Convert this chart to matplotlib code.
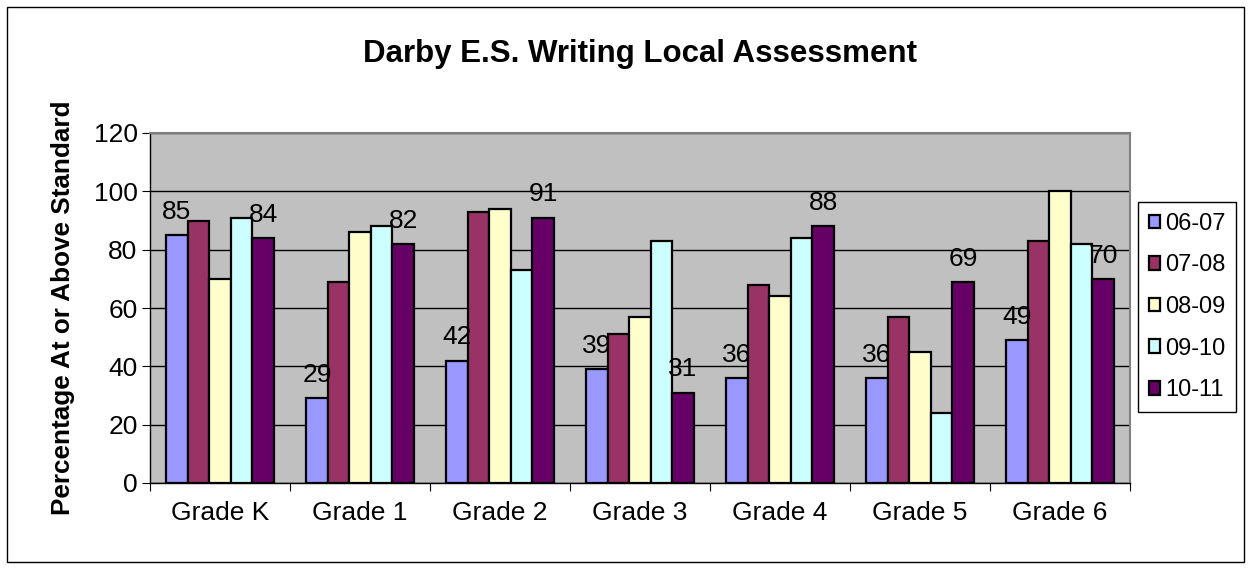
import matplotlib.pyplot as plt
import matplotlib.patches as mpatches
import numpy as np

plt.rcParams['font.family'] = ['Liberation Sans', 'DejaVu Sans']

grades = ['Grade K', 'Grade 1', 'Grade 2', 'Grade 3', 'Grade 4', 'Grade 5', 'Grade 6']
years = ['06-07', '07-08', '08-09', '09-10', '10-11']
y0607 = [85, 29, 42, 39, 36, 36, 49]
y0708 = [90, 69, 93, 51, 68, 57, 83]
y0809 = [70, 86, 94, 57, 64, 45, 100]
y0910 = [91, 88, 73, 83, 84, 24, 82]
y1011 = [84, 82, 91, 31, 88, 69, 70]
series = [y0607, y0708, y0809, y0910, y1011]
colors = ['#9999FF', '#993366', '#FFFFCC', '#CCFFFF', '#660066']
labelled = [0, 4]  # only first and last series carry data labels

fig = plt.figure(figsize=(12.52, 5.69), dpi=100)
# outer chart border
fig.patches.append(mpatches.Rectangle((7/1252, 7/569), 1237/1252, 555/569,
                                      transform=fig.transFigure, fill=False,
                                      edgecolor='black', linewidth=1))

ax = fig.add_axes([150/1252, 1-483/569, 980/1252, 350/569])
ax.set_facecolor('#C0C0C0')
ax.set_axisbelow(True)

x = np.arange(len(grades))
w = 1/6.5
for i, vals in enumerate(series):
    pos = x - 2*w + i*w
    ax.bar(pos, vals, w, color=colors[i], edgecolor='black', linewidth=1.6, label=years[i])
    if i in labelled:
        for p, v in zip(pos, vals):
            ax.annotate(str(v), (p, v), xytext=(0, 8), textcoords='offset points',
                        ha='center', va='bottom', fontsize=19)

ax.set_xlim(-0.5, len(grades)-0.5)
ax.set_ylim(0, 120)
ax.set_yticks(np.arange(0, 121, 20))
ax.yaxis.grid(True, color='black', linewidth=1)
ax.set_xticks(np.arange(-0.5, len(grades), 1))
ax.set_xticklabels([])
ax.set_xticks(x, minor=True)
ax.set_xticklabels(grades, minor=True)
ax.tick_params(axis='x', which='minor', length=0, pad=13, labelsize=19)
ax.tick_params(axis='x', which='major', length=6, direction='out', color='black')
ax.tick_params(axis='y', length=6, direction='out', pad=3, labelsize=19)

for s in ['top', 'right']:
    ax.spines[s].set_color('#808080')
    ax.spines[s].set_linewidth(1.5)
for s in ['left', 'bottom']:
    ax.spines[s].set_color('black')
    ax.spines[s].set_linewidth(1)

ax.set_ylabel('Percentage At or Above Standard', fontsize=18.8, fontweight='bold', labelpad=13)
ax.set_title('Darby E.S. Writing Local Assessment', fontsize=22.5, fontweight='bold', pad=51)

handles = [mpatches.Patch(facecolor=c, edgecolor='black', linewidth=1.6) for c in colors]
leg = ax.legend(handles, years, loc='center left', bbox_to_anchor=(1138/1252, 1-307/569),
                bbox_transform=fig.transFigure, borderaxespad=0, fontsize=17,
                handlelength=0.5, handleheight=0.5, handletextpad=0.2,
                labelspacing=0.83, fancybox=False, framealpha=1, edgecolor='black',
                borderpad=0.45)
leg.get_frame().set_linewidth(1)

fig.savefig('out.png', dpi=100)
